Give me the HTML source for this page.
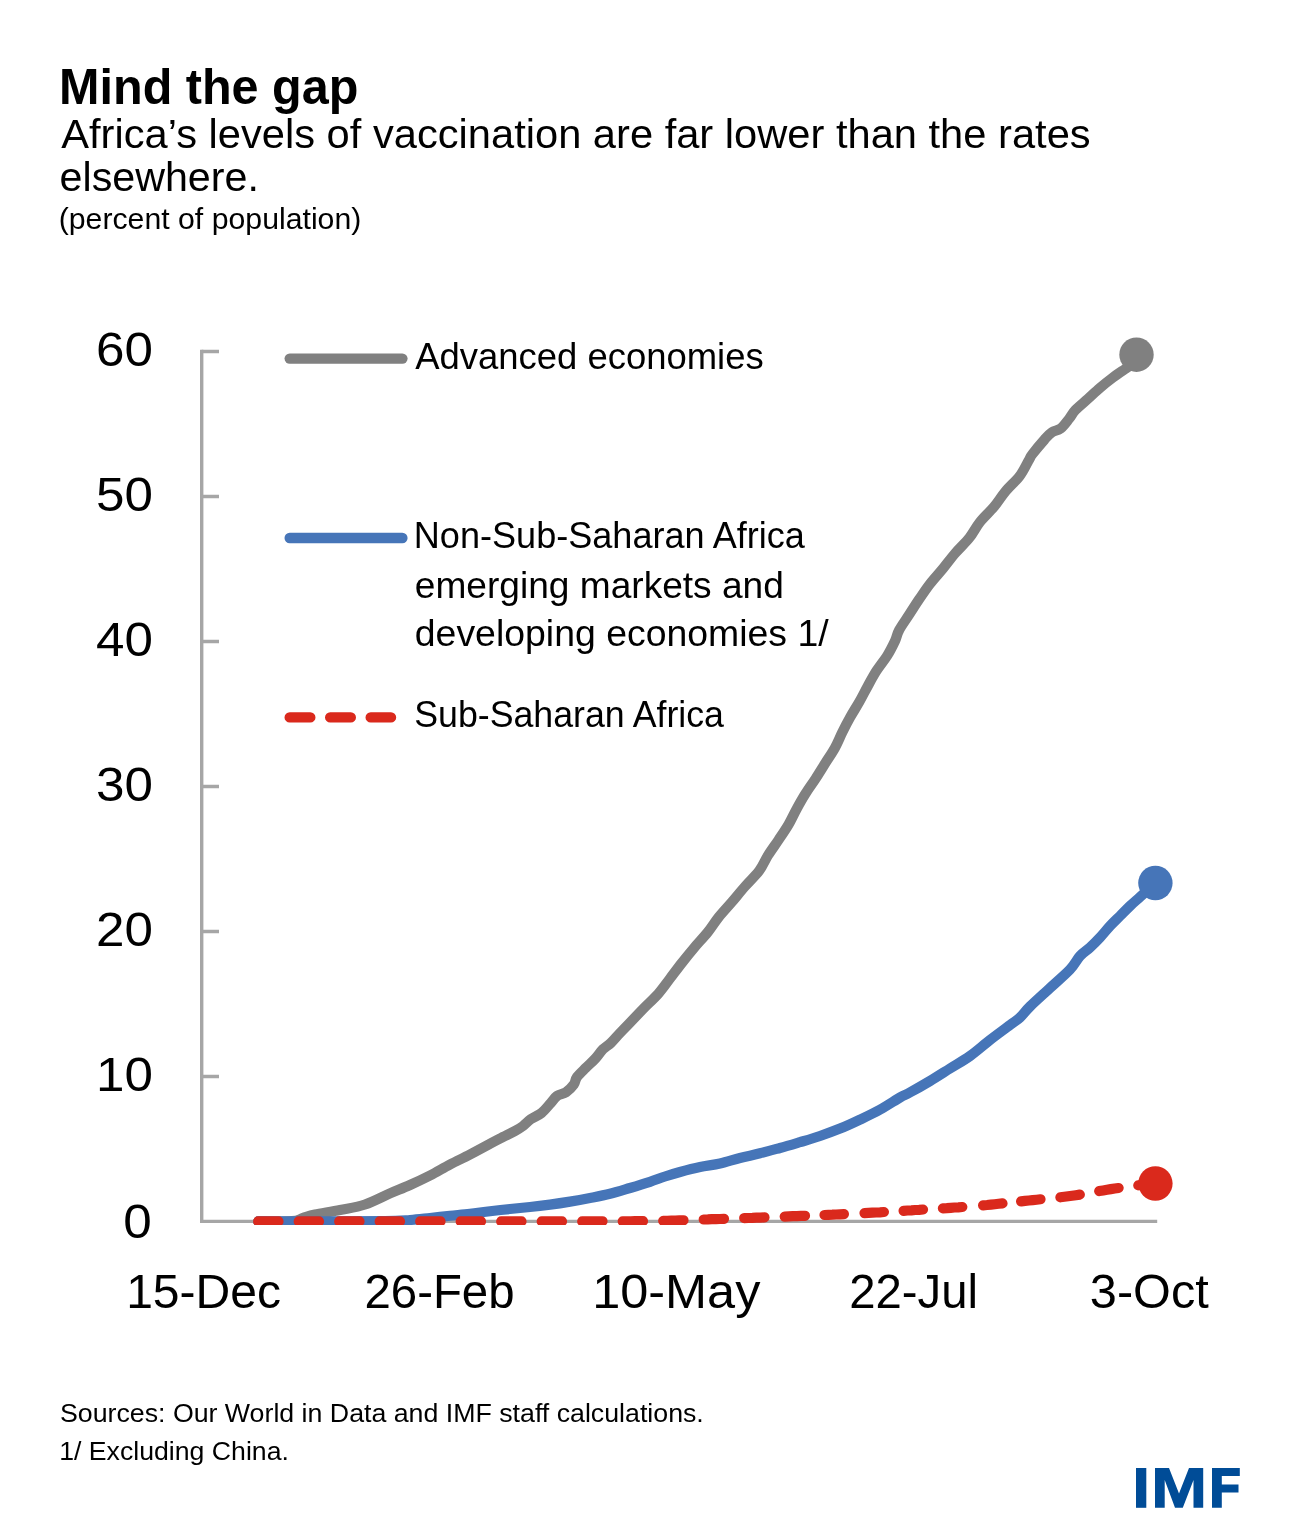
<!DOCTYPE html>
<html><head><meta charset="utf-8"><title>Mind the gap</title>
<style>
html,body{margin:0;padding:0;background:#fff}
body{width:1300px;height:1530px;position:relative;overflow:hidden;font-family:"Liberation Sans",sans-serif;color:#000}
.t{position:absolute;white-space:pre;transform-origin:0 0;font-family:"Liberation Sans",sans-serif}
</style></head><body>
<svg width="1300" height="1530" viewBox="0 0 1300 1530" style="position:absolute;left:0;top:0;will-change:transform">
<g fill="none" stroke="#A6A6A6" stroke-width="3.4">
<path d="M201.7,349.8V1221.4H1157.2"/>
<path d="M201.7,351.5H219M201.7,496.5H219M201.7,641.5H219M201.7,786.5H219M201.7,931.5H219M201.7,1076.5H219"/>
</g>
<clipPath id="pc"><rect x="190" y="300" width="1100" height="925"/></clipPath>
<g fill="none" stroke-width="10.2" stroke-linecap="round" stroke-linejoin="round" clip-path="url(#pc)">
<path stroke="#808080" d="M258.3,1221.4C263.9,1221.4 284.6,1221.8 292.0,1221.2C299.4,1220.6 299.2,1219.1 303.0,1218.0C306.8,1216.9 308.8,1215.8 315.0,1214.5C321.2,1213.2 331.7,1211.7 340.0,1210.0C348.3,1208.3 356.7,1207.3 365.0,1204.5C373.3,1201.7 382.5,1196.7 390.0,1193.4C397.5,1190.2 403.3,1188.0 410.0,1185.0C416.7,1182.0 423.3,1178.9 430.0,1175.5C436.7,1172.1 443.3,1168.0 450.0,1164.5C456.7,1161.0 463.3,1158.0 470.0,1154.5C476.7,1151.0 485.0,1146.5 490.0,1143.8C495.0,1141.1 495.8,1140.7 500.0,1138.5C504.2,1136.3 511.6,1132.9 515.4,1130.8C519.2,1128.7 520.4,1127.9 523.0,1126.0C525.6,1124.1 527.7,1121.4 530.8,1119.2C533.9,1117.0 538.2,1115.7 541.5,1113.0C544.8,1110.3 548.2,1105.8 550.8,1103.0C553.4,1100.2 554.5,1097.8 557.0,1096.0C559.5,1094.2 563.2,1094.2 566.0,1092.3C568.8,1090.4 572.0,1087.1 573.8,1084.6C575.6,1082.0 575.0,1079.8 577.0,1077.0C579.0,1074.2 582.9,1070.8 586.0,1067.7C589.1,1064.6 592.6,1061.6 595.4,1058.5C598.2,1055.4 600.4,1051.8 603.0,1049.2C605.6,1046.6 608.0,1045.7 610.8,1043.0C613.6,1040.3 616.9,1036.2 620.0,1033.0C623.1,1029.8 625.4,1027.5 629.2,1023.5C633.0,1019.5 638.0,1014.2 642.8,1009.2C647.6,1004.2 653.7,998.9 658.2,993.8C662.7,988.7 666.1,983.6 670.0,978.5C673.9,973.4 677.8,968.1 681.8,963.0C685.8,957.9 689.9,952.8 694.2,947.7C698.5,942.6 703.6,937.4 707.7,932.3C711.8,927.2 714.7,922.1 718.8,917.0C722.9,911.9 727.9,906.7 732.3,901.5C736.7,896.3 740.9,891.1 745.4,886.0C749.9,880.9 755.4,875.9 759.2,870.8C763.0,865.7 764.8,860.5 768.0,855.4C771.2,850.3 775.1,845.1 778.5,840.0C781.9,834.9 785.5,829.7 788.5,824.6C791.5,819.5 793.7,814.3 796.5,809.2C799.3,804.1 802.2,798.9 805.4,793.8C808.6,788.7 812.4,783.6 815.7,778.5C819.0,773.4 822.2,768.1 825.4,763.0C828.6,757.9 832.2,752.8 835.0,747.7C837.8,742.6 839.8,737.4 842.3,732.3C844.8,727.2 847.4,722.1 850.3,717.0C853.2,711.9 856.6,706.6 859.5,701.5C862.4,696.4 864.9,691.3 867.7,686.2C870.5,681.1 873.2,675.9 876.5,670.8C879.8,665.7 884.3,660.4 887.4,655.4C890.5,650.4 893.0,645.2 895.0,641.0C897.0,636.8 896.8,634.4 899.2,630.0C901.6,625.6 905.9,619.7 909.2,614.6C912.5,609.5 915.7,604.3 919.2,599.2C922.7,594.1 926.0,588.9 930.0,583.8C934.0,578.7 938.8,573.6 943.0,568.5C947.2,563.4 951.0,558.1 955.4,553.0C959.8,547.9 965.5,542.8 969.5,537.7C973.5,532.6 975.7,527.4 979.7,522.3C983.8,517.2 989.5,512.1 993.8,507.0C998.1,501.9 1001.1,496.7 1005.4,491.5C1009.7,486.3 1015.9,481.1 1019.7,476.0C1023.6,470.9 1026.4,464.4 1028.5,460.8C1030.6,457.2 1029.6,457.9 1032.3,454.3C1035.0,450.8 1041.3,443.2 1044.6,439.5C1047.9,435.8 1049.3,434.0 1052.0,432.2C1054.7,430.4 1057.7,430.8 1060.6,428.5C1063.5,426.2 1066.7,421.7 1069.2,418.6C1071.7,415.5 1072.3,413.3 1075.4,410.0C1078.5,406.7 1083.6,402.7 1087.7,399.0C1091.8,395.3 1095.9,391.3 1100.0,387.8C1104.1,384.3 1108.2,381.1 1112.3,378.0C1116.4,374.9 1121.1,371.8 1124.6,369.4C1128.0,367.0 1131.6,364.5 1133.0,363.5"/>
<path stroke="#4675B8" d="M258.3,1221.4C270.2,1221.4 308.9,1221.4 330.0,1221.4C351.1,1221.4 371.7,1221.4 385.0,1221.2C398.3,1221.0 402.5,1220.5 410.0,1220.0C417.5,1219.5 423.3,1218.7 430.0,1218.0C436.7,1217.3 443.3,1216.5 450.0,1215.8C456.7,1215.1 463.3,1214.6 470.0,1213.8C476.7,1213.0 483.3,1212.0 490.0,1211.2C496.7,1210.4 503.3,1209.7 510.0,1209.0C516.7,1208.3 523.3,1207.7 530.0,1207.0C536.7,1206.3 543.3,1205.5 550.0,1204.6C556.7,1203.7 563.3,1202.7 570.0,1201.6C576.7,1200.5 583.3,1199.3 590.0,1198.0C596.7,1196.7 603.3,1195.5 610.0,1193.8C616.7,1192.1 623.3,1190.0 630.0,1188.0C636.7,1186.0 644.2,1183.7 650.0,1181.8C655.8,1179.9 660.0,1178.1 665.0,1176.5C670.0,1174.9 674.2,1173.6 680.0,1172.0C685.8,1170.4 693.3,1168.4 700.0,1167.0C706.7,1165.6 713.3,1165.0 720.0,1163.5C726.7,1162.0 733.3,1159.7 740.0,1158.0C746.7,1156.3 753.3,1155.0 760.0,1153.3C766.7,1151.6 773.3,1149.8 780.0,1148.0C786.7,1146.2 793.3,1144.2 800.0,1142.2C806.7,1140.2 813.3,1138.3 820.0,1136.0C826.7,1133.7 833.3,1131.3 840.0,1128.6C846.7,1125.9 853.3,1122.8 860.0,1119.6C866.7,1116.4 873.3,1113.3 880.0,1109.6C886.7,1105.9 895.0,1100.4 900.0,1097.5C905.0,1094.6 905.0,1095.2 910.0,1092.4C915.0,1089.7 923.3,1085.0 930.0,1081.0C936.7,1077.0 943.3,1072.7 950.0,1068.5C956.7,1064.3 963.3,1060.8 970.0,1056.0C976.7,1051.2 983.3,1045.2 990.0,1040.0C996.7,1034.8 1005.0,1028.8 1010.0,1025.0C1015.0,1021.2 1016.7,1020.6 1020.0,1017.5C1023.3,1014.4 1025.0,1011.4 1030.0,1006.5C1035.0,1001.6 1043.3,994.2 1050.0,988.0C1056.7,981.8 1065.0,974.8 1070.0,969.5C1075.0,964.2 1076.7,959.7 1080.0,956.0C1083.3,952.3 1086.7,950.6 1090.0,947.5C1093.3,944.4 1096.7,941.1 1100.0,937.5C1103.3,933.9 1106.7,929.6 1110.0,926.0C1113.3,922.4 1116.7,919.3 1120.0,916.0C1123.3,912.7 1126.7,909.2 1130.0,906.0C1133.3,902.8 1135.8,900.8 1140.0,897.0C1144.2,893.2 1152.8,885.3 1155.4,883.0"/>
<path stroke="#DA291C" d="M258.2,1221.4L262.3,1221.4L266.3,1221.4L270.4,1221.4L274.4,1221.4L278.5,1221.4M298.7,1221.4L302.8,1221.4L306.8,1221.4L310.9,1221.4L314.9,1221.4L319.0,1221.4M339.2,1221.4L343.3,1221.4L347.3,1221.4L351.4,1221.4L355.4,1221.4L359.5,1221.4M379.7,1221.4L383.8,1221.4L387.8,1221.4L391.9,1221.4L395.9,1221.4L400.0,1221.4M420.2,1221.4L424.3,1221.4L428.3,1221.4L432.4,1221.4L436.4,1221.4L440.5,1221.4M460.7,1221.4L464.8,1221.4L468.8,1221.4L472.9,1221.4L476.9,1221.4L481.0,1221.4M501.2,1221.4L505.3,1221.4L509.3,1221.4L513.4,1221.4L517.4,1221.4L521.5,1221.4M541.7,1221.4L545.8,1221.4L549.8,1221.4L553.9,1221.4L557.9,1221.4L562.0,1221.4M582.2,1221.4L586.3,1221.4L590.3,1221.4L594.4,1221.4L598.4,1221.4L602.5,1221.3M622.7,1221.3L626.8,1221.3L630.8,1221.3L634.9,1221.2L638.9,1221.2L643.0,1221.2M663.2,1220.9L667.3,1220.8L671.3,1220.7L675.4,1220.6L679.4,1220.4L683.5,1220.3M703.7,1219.5L707.8,1219.4L711.8,1219.2L715.9,1219.1L719.9,1219.0L724.0,1218.8M744.2,1218.1L748.3,1218.0L752.3,1217.9L756.4,1217.7L760.4,1217.6L764.5,1217.4M784.7,1216.6L788.8,1216.4L792.8,1216.2L796.9,1216.1L800.9,1215.9L805.0,1215.8M824.5,1215.0L828.4,1214.8L832.3,1214.7L836.1,1214.5L840.0,1214.3L843.9,1214.1M864.5,1213.1L868.4,1212.9L872.3,1212.7L876.1,1212.5L880.0,1212.3L883.9,1212.0M903.6,1210.8L907.5,1210.5L911.4,1210.3L915.2,1210.0L919.1,1209.8L923.0,1209.5M942.9,1208.3L946.8,1208.1L950.7,1207.8L954.5,1207.5L958.4,1207.3L962.3,1207.0M983.1,1205.3L987.0,1205.0L990.9,1204.6L994.7,1204.2L998.6,1203.8L1002.5,1203.4M1021.1,1201.4L1025.0,1200.9L1028.9,1200.5L1032.7,1200.1L1036.6,1199.7L1040.5,1199.3M1060.4,1197.3L1064.3,1196.8L1068.2,1196.3L1072.0,1195.8L1075.9,1195.2L1079.8,1194.6M1099.2,1191.1L1103.1,1190.4L1107.0,1189.7L1110.8,1189.1L1114.7,1188.5L1118.6,1188.0M1138.3,1185.3L1141.7,1184.9L1145.1,1184.6L1148.6,1184.2L1152.0,1183.8L1155.4,1183.5"/>
</g>
<circle cx="1136.5" cy="354.7" r="17.2" fill="#808080"/>
<circle cx="1155.4" cy="883" r="17.2" fill="#4675B8"/>
<circle cx="1155.4" cy="1183.5" r="17.2" fill="#DA291C"/>
<g fill="none" stroke-width="10.4" stroke-linecap="round">
<path stroke="#808080" d="M289.7,358.6H402.4"/>
<path stroke="#4675B8" d="M289.7,538H402.4"/>
<path stroke="#DA291C" stroke-dasharray="20.6 19.9" d="M289.7,717.4H391"/>
</g>
<g font-family="'Liberation Sans',sans-serif" fill="#000">
<text transform="translate(95.94,366.29) scale(1.0509,1)" font-size="48.7">60</text>
<text transform="translate(95.94,511.29) scale(1.0509,1)" font-size="48.7">50</text>
<text transform="translate(95.94,656.29) scale(1.0509,1)" font-size="48.7">40</text>
<text transform="translate(95.94,801.29) scale(1.0509,1)" font-size="48.7">30</text>
<text transform="translate(95.94,946.29) scale(1.0509,1)" font-size="48.7">20</text>
<text transform="translate(95.94,1091.29) scale(1.0509,1)" font-size="48.7">10</text>
<text transform="translate(123.35,1237.89) scale(1.0524,1)" font-size="48.7">0</text>
<text transform="translate(126.15,1308.00) scale(0.9810,1)" font-size="49">15-Dec</text>
<text transform="translate(364.43,1308.00) scale(0.9674,1)" font-size="49">26-Feb</text>
<text transform="translate(592.16,1308.00) scale(1.0298,1)" font-size="49">10-May</text>
<text transform="translate(849.24,1308.00) scale(0.9649,1)" font-size="49">22-Jul</text>
<text transform="translate(1089.86,1308.00) scale(0.9923,1)" font-size="49">3-Oct</text>
<text transform="translate(415.20,368.70) scale(0.9669,1)" font-size="37.7">Advanced economies</text>
<text transform="translate(413.81,547.70) scale(0.9572,1)" font-size="37.7">Non-Sub-Saharan Africa</text>
<text transform="translate(414.82,597.70) scale(0.9842,1)" font-size="37.7">emerging markets and</text>
<text transform="translate(414.80,646.00) scale(0.9924,1)" font-size="37.7">developing economies 1/</text>
<text transform="translate(414.21,727.00) scale(0.9478,1)" font-size="37.7">Sub-Saharan Africa</text>
<text transform="translate(59.10,103.85) scale(0.9789,1)" font-size="49.6" font-weight="bold">Mind the gap</text>
<text transform="translate(61.20,148.00) scale(1.0088,1)" font-size="41.3">Africa’s levels of vaccination are far lower than the rates</text>
<text transform="translate(59.55,191.25) scale(0.9984,1)" font-size="41.3">elsewhere.</text>
<text transform="translate(58.68,229.25) scale(1.0364,1)" font-size="29.2">(percent of population)</text>
<text transform="translate(59.96,1421.80) scale(1.0093,1)" font-size="26.5">Sources: Our World in Data and IMF staff calculations.</text>
<text transform="translate(59.17,1459.50) scale(1.0064,1)" font-size="26.5">1/ Excluding China.</text>
</g>
<g fill="#004C97">
<path d="M1136,1468H1146.3V1507.8H1136Z"/>
<path d="M1155,1507.8V1468H1169L1179,1493.5L1189,1468H1203.2V1507.8H1193.5V1480L1182.8,1507.8H1175L1164.7,1480V1507.8Z"/>
<path d="M1212,1507.8V1468H1239.8V1476H1221.8V1484.5H1238.5V1492.5H1221.8V1507.8Z"/>
</g>
</svg>
</body></html>
